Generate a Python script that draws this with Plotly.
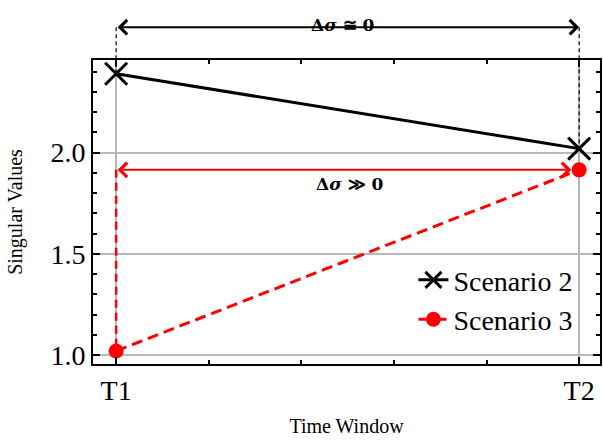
import plotly.graph_objects as go

# Time windows and singular values per scenario
windows = [0, 1]
window_labels = ["T1", "T2"]
scenario2 = [2.39, 2.02]
scenario3 = [1.02, 1.915]
top_arrow_level = 2.62          # level of the upper Δσ arrow (above the axes)
y_ticks = [1.0, 1.5, 2.0]

x_range = [-0.05, 1.045]
y_range = [0.9555, 2.458]

FONT = "Liberation Serif, Times New Roman, serif"


def xd(v):
    return (v - x_range[0]) / (x_range[1] - x_range[0])


def yd(v):
    return (v - y_range[0]) / (y_range[1] - y_range[0])


fig = go.Figure()

fig.add_trace(go.Scatter(
    x=windows, y=scenario2, name="Scenario 2", mode="lines+markers",
    line=dict(color="black", width=3),
    marker=dict(symbol="x-thin", size=22, line=dict(color="black", width=3)),
    cliponaxis=False,
))
fig.add_trace(go.Scatter(
    x=windows, y=scenario3, name="Scenario 3", mode="lines+markers",
    line=dict(color="#ff0000", width=3, dash="11px,6px"),
    marker=dict(symbol="circle", size=15, color="#ff0000"),
    cliponaxis=False,
))

# dashed guide lines
guides = [
    (windows[0], top_arrow_level, scenario2[0], "black", 1.2, "4px,3px"),
    (windows[1], top_arrow_level, scenario2[1], "black", 1.2, "4px,3px"),
    (windows[0], scenario3[1], scenario3[0], "#ff0000", 2.5, "8px,5px"),
]
for gx, g0, g1, col, w, dash in guides:
    fig.add_shape(type="line", xref="x domain", yref="y domain",
                  x0=xd(gx), x1=xd(gx), y0=yd(g0), y1=yd(g1),
                  line=dict(color=col, width=w, dash=dash))

# double-headed arrows
fig.add_annotation(x=windows[1], y=yd(top_arrow_level), xref="x", yref="paper",
                   ax=windows[0], ay=0, axref="x", ayref="pixel",
                   text="", showarrow=True, arrowside="end+start",
                   arrowhead=4, arrowsize=1.4, arrowwidth=2, arrowcolor="black",
                   standoff=0, startstandoff=0)
fig.add_annotation(x=0.983, y=scenario3[1], xref="x", yref="y",
                   ax=windows[0], ay=scenario3[1], axref="x", ayref="y",
                   text="", showarrow=True, arrowside="end+start",
                   arrowhead=4, arrowsize=1.4, arrowwidth=2, arrowcolor="#ff0000",
                   standoff=0, startstandoff=0)

fig.add_annotation(x=0.49, y=yd(2.69), xref="x", yref="paper",
                   text="<b>Δ<i>σ</i> ≅ 0</b>", showarrow=False,
                   font=dict(family="DejaVu Serif", size=17, color="black"))
fig.add_annotation(x=0.505, y=1.845, xref="x", yref="y",
                   text="<b>Δ<i>σ</i> ≫ 0</b>", showarrow=False,
                   font=dict(family="DejaVu Serif", size=17, color="black"))

axis_common = dict(
    showline=True, linecolor="black", linewidth=2, mirror="allticks",
    ticks="inside", ticklen=7, tickwidth=1.5, tickcolor="black",
    showgrid=True, gridcolor="#b8b8b8", gridwidth=1.5, zeroline=False,
    tickfont=dict(family=FONT, size=28, color="black"),
)

fig.update_xaxes(
    range=x_range, tickvals=windows, ticktext=window_labels,
    minor=dict(dtick=0.2, tick0=0, ticks="inside", ticklen=4, tickwidth=1.5,
               tickcolor="black", showgrid=False),
    title=dict(text="Time Window", font=dict(family=FONT, size=20, color="black"),
               standoff=14),
    **axis_common,
)
fig.update_yaxes(
    range=y_range, tickvals=y_ticks, ticktext=[f"{v:.1f}" for v in y_ticks],
    minor=dict(dtick=0.1, tick0=0, ticks="inside", ticklen=4, tickwidth=1.5,
               tickcolor="black", showgrid=False),
    title=dict(text="Singular Values", font=dict(family=FONT, size=20, color="black"),
               standoff=22),
    **axis_common,
)

fig.update_layout(
    width=603, height=441,
    margin=dict(l=93, r=1, t=60, b=77),
    paper_bgcolor="white", plot_bgcolor="white",
    font=dict(family=FONT, color="black"),
    showlegend=True,
    legend=dict(x=0.632, y=0.358, xanchor="left", yanchor="top",
                bgcolor="rgba(0,0,0,0)", font=dict(family=FONT, size=28, color="black"),
                tracegroupgap=0),
)

fig.write_html("out.html")
